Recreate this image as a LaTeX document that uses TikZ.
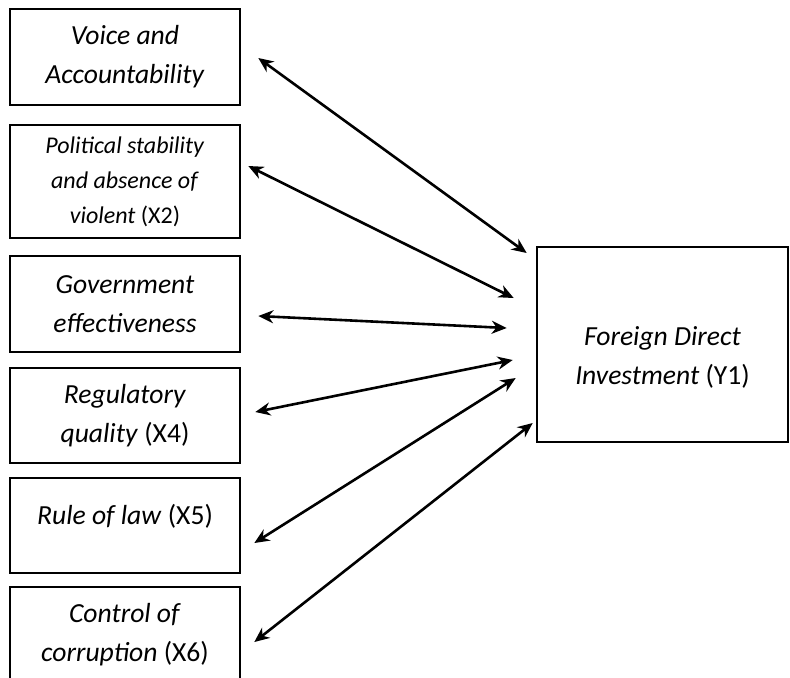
\documentclass[tikz,border=0pt]{standalone}
\usepackage{fontspec}
\setmainfont{Carlito}
\usetikzlibrary{arrows.meta,positioning,calc}
\newcommand{\boxfont}{\fontsize{13.8pt}{19.5pt}\selectfont}
\newcommand{\smallboxfont}{\fontsize{12pt}{17.5pt}\selectfont}
\tikzset{
  varbox/.style={rectangle, draw=black, line width=1.3pt, minimum width=115pt, minimum height=#1,
                 inner sep=0pt, align=center, font=\boxfont},
  dblarr/.style={{Stealth[length=7.5pt,width=6.5pt,inset=2.4pt]}-{Stealth[length=7.5pt,width=6.5pt,inset=2.4pt]},
                 line width=1.3pt, draw=black},
}

\begin{document}
\begin{tikzpicture}[x=0.5pt,y=-0.5pt]
    \useasboundingbox (0,0) rectangle (790,677);
    % governance indicators
    \node[varbox=48pt] (voice) at (125,57) {\textit{Voice and}\\\textit{Accountability}};
    \node[varbox=56.5pt, font=\smallboxfont] (polstab) at (125,181.5) {\textit{Political stability}\\\textit{and absence of}\\\textit{violent} (X2)};
    \node[varbox=48pt] (goveff) at (125,304) {\textit{Government}\\\textit{effectiveness}};
    \node[varbox=47.5pt] (regqual) at (125,415.5) {\textit{Regulatory}\\\textit{quality} (X4)};
    \node[varbox=47.5pt, text depth=11pt] (rulelaw) at (125,525.5) {\textit{Rule of law} (X5)};
    \node[varbox=47.5pt] (corrupt) at (125,634.5) {\textit{Control of}\\\textit{corruption} (X6)};
    % dependent variable
    \node[varbox=97.5pt, minimum width=125.5pt] (fdi) at (662.5,344.5) {};
    \node[font=\boxfont, align=center, inner sep=0pt] (fdilbl) at ($(fdi.center)+(0,13)$) {\textit{Foreign Direct}\\\textit{Investment} (Y1)};
    % links
    \draw[dblarr] ($(voice.east)+(17,1)$) -- ($(fdi.west)+(-9,-91.5)$);
    \draw[dblarr] ($(polstab.east)+(7,-15.5)$) -- ($(fdi.west)+(-22,-46.5)$);
    \draw[dblarr] ($(goveff.east)+(17,12)$) -- ($(fdi.west)+(-29,-16.5)$);
    \draw[dblarr] ($(regqual.east)+(14,-3.5)$) -- ($(fdi.west)+(-23,15.5)$);
    \draw[dblarr] ($(rulelaw.east)+(13,17.5)$) -- ($(fdi.west)+(-20,33.5)$);
    \draw[dblarr] ($(corrupt.east)+(13,7.5)$) -- ($(fdi.west)+(-3,78.5)$);
\end{tikzpicture}
\end{document}
